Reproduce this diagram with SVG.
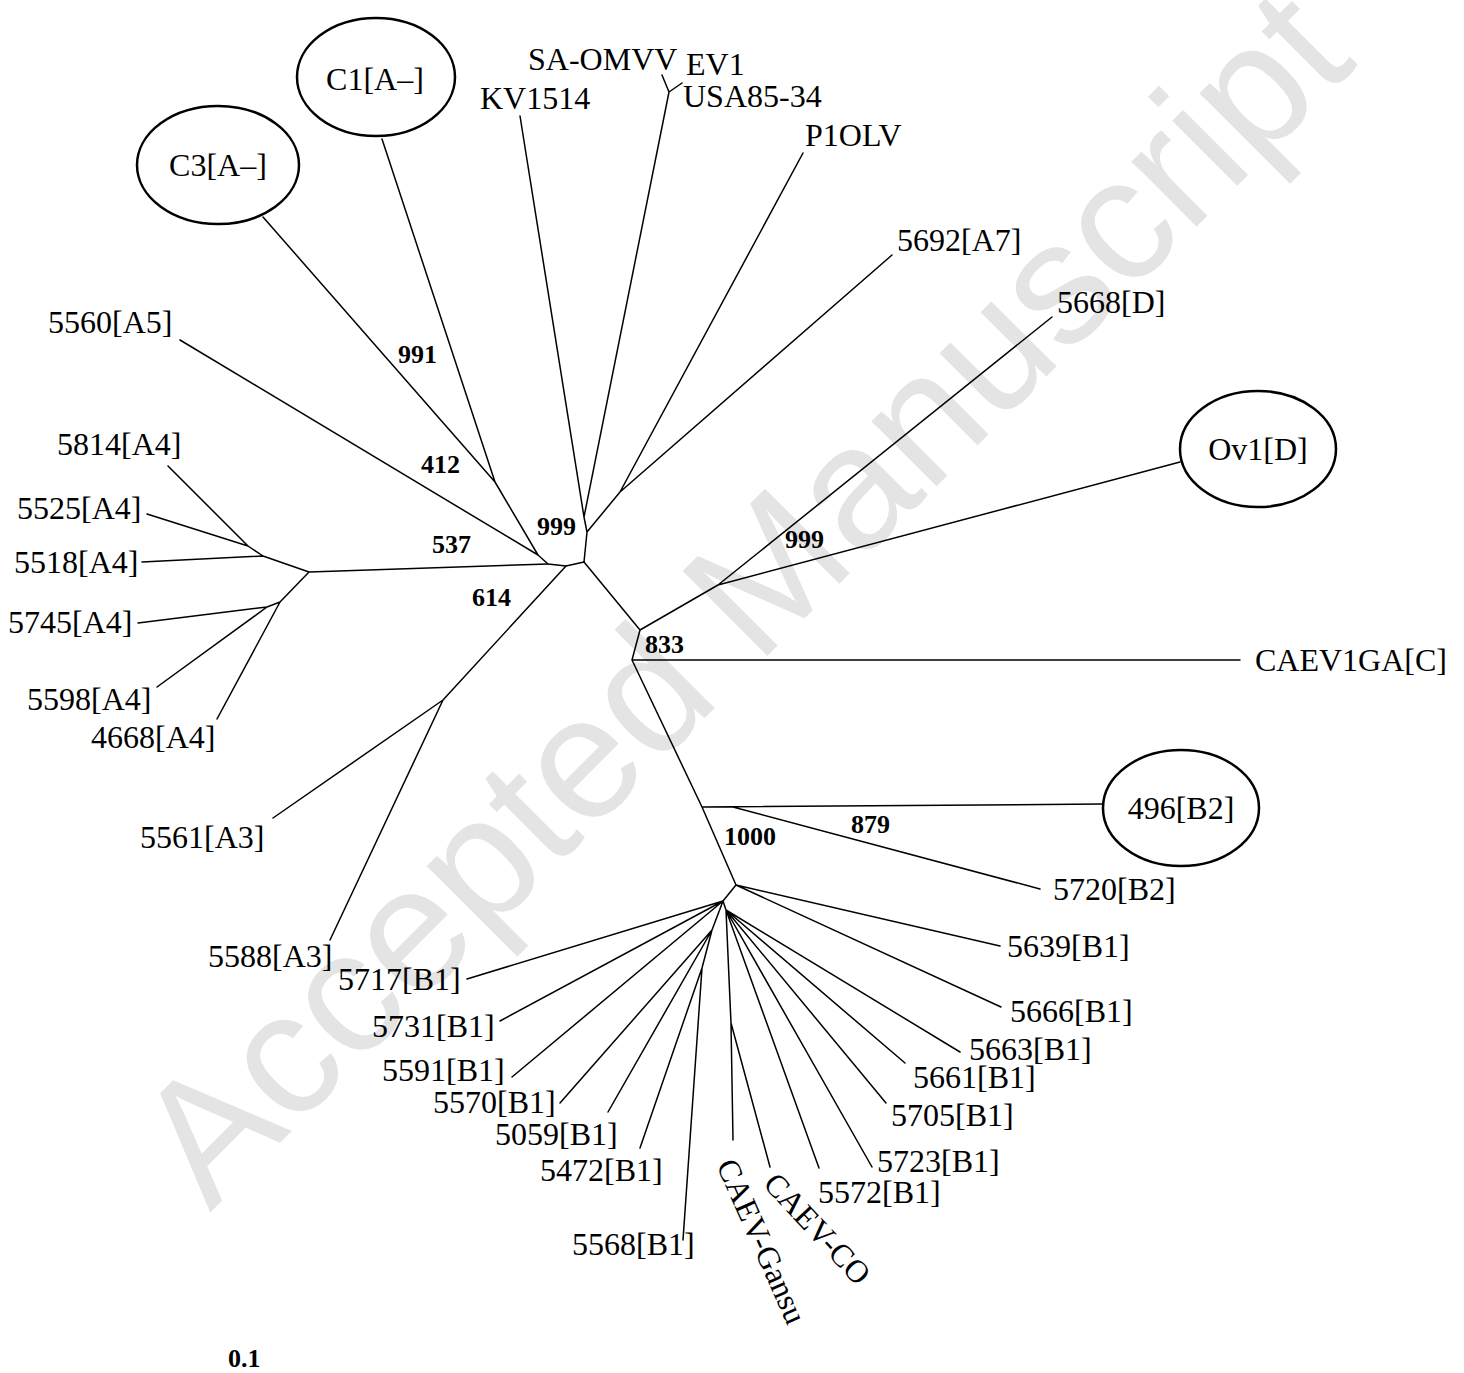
<svg xmlns="http://www.w3.org/2000/svg" width="1464" height="1373" viewBox="0 0 1464 1373">
<style>
.e{fill:none;stroke:#000;stroke-width:2.5}
.c{fill:none;stroke:#000;stroke-width:1.5;stroke-linecap:round;stroke-linejoin:round}
.t{font-family:"Liberation Serif","Times New Roman",serif;font-size:32px;fill:#000}
.m{text-anchor:middle}
.s{font-family:"Liberation Serif","Times New Roman",serif;font-size:26px;font-weight:bold;fill:#000}
.w{font-family:"Liberation Sans",Arial,sans-serif;font-size:174px;fill:#e4e4e4}
</style>
<rect width="1464" height="1373" fill="#fff"/>
<text class="w" text-anchor="middle" transform="translate(742,596) rotate(-45)" y="60">Accepted Manuscript</text>
<g id="connectors">
<path class="c" d="M584,562 L587,532 L584,517 M584,517 L520,116 M584,517 L669,92 L662,75 M669,92 L682,83 M587,532 L620,492 L803,153 M620,492 L892,255"/>
<path class="c" d="M584,562 L566,566 L548,564 L538,555 L495,482 L382,139 M495,482 L263,217 M538,555 L180,340"/>
<path class="c" d="M548,564 L309,572 L263,556 L248,546 L168,466 M248,546 L147,514 M263,556 L142,562 M309,572 L280,602 L217,719 M280,602 L267,607 L138,623 M267,607 L157,687"/>
<path class="c" d="M566,566 L443,700 L273,818 M443,700 L330,940"/>
<path class="c" d="M584,562 L640,630 L718,585 L1052,317 M718,585 L1180,462 M640,630 L632,660 L1240,660 M632,660 L702,807 L736,885 M702,807 L1103,804 M733,807 L1040,889"/>
<path class="c" d="M736,885 L1000,946 M736,885 L1001,1007 M736,885 L723,901 L467,979 M723,901 L500,1021 M723,901 L512,1077 M723,901 L712,930 L560,1103 M712,930 L608,1112 M712,930 L702,968 L640,1148 M702,968 L683,1240"/>
<path class="c" d="M723,901 L726,910 L731,1023 L733,1140 M731,1023 L770,1167 M726,910 L819,1168 M726,910 L872,1167 M726,910 L886,1103 M726,910 L905,1063 M726,910 L960,1052"/>
</g>
<g id="bootstrap">
<text class="s" x="398" y="363">991</text>
<text class="s" x="421" y="473">412</text>
<text class="s" x="537" y="535">999</text>
<text class="s" x="432" y="553">537</text>
<text class="s" x="472" y="606">614</text>
<text class="s" x="785" y="548">999</text>
<text class="s" x="645" y="653">833</text>
<text class="s" x="851" y="833">879</text>
<text class="s" x="724" y="845">1000</text>
</g>
<g id="C3"><ellipse class="e" cx="218" cy="165" rx="81" ry="59"/><text class="t m" x="218" y="176">C3[A–]</text></g>
<g id="C1"><ellipse class="e" cx="376" cy="77" rx="79" ry="59"/><text class="t m" x="375" y="90">C1[A–]</text></g>
<g id="KV1514"><text class="t" x="480" y="109">KV1514</text></g>
<g id="SA-OMVV"><text class="t" x="528" y="70">SA-OMVV</text></g>
<g id="EV1"><text class="t" x="686" y="75">EV1</text></g>
<g id="USA85-34"><text class="t" x="683" y="107">USA85-34</text></g>
<g id="P1OLV"><text class="t" x="805" y="146">P1OLV</text></g>
<g id="n5692"><text class="t" x="897" y="251">5692[A7]</text></g>
<g id="n5668"><text class="t" x="1057" y="313">5668[D]</text></g>
<g id="Ov1"><ellipse class="e" cx="1258" cy="449" rx="78" ry="58"/><text class="t m" x="1258" y="460">Ov1[D]</text></g>
<g id="CAEV1GA"><text class="t" x="1255" y="671">CAEV1GA[C]</text></g>
<g id="n496"><ellipse class="e" cx="1181" cy="808" rx="78" ry="58"/><text class="t m" x="1181" y="819">496[B2]</text></g>
<g id="n5720"><text class="t" x="1053" y="900">5720[B2]</text></g>
<g id="n5639"><text class="t" x="1007" y="957">5639[B1]</text></g>
<g id="n5666"><text class="t" x="1010" y="1022">5666[B1]</text></g>
<g id="n5663"><text class="t" x="969" y="1060">5663[B1]</text></g>
<g id="n5661"><text class="t" x="913" y="1088">5661[B1]</text></g>
<g id="n5705"><text class="t" x="891" y="1126">5705[B1]</text></g>
<g id="n5723"><text class="t" x="877" y="1172">5723[B1]</text></g>
<g id="n5572"><text class="t" x="818" y="1203">5572[B1]</text></g>
<g id="CAEV-CO"><text class="t" transform="translate(762,1185) rotate(47)">CAEV-CO</text></g>
<g id="CAEV-Gansu"><text class="t" transform="translate(716,1165) rotate(66)">CAEV-Gansu</text></g>
<g id="n5568"><text class="t" x="572" y="1255">5568[B1]</text></g>
<g id="n5472"><text class="t" x="540" y="1181">5472[B1]</text></g>
<g id="n5059"><text class="t" x="495" y="1145">5059[B1]</text></g>
<g id="n5570"><text class="t" x="433" y="1113">5570[B1]</text></g>
<g id="n5591"><text class="t" x="382" y="1081">5591[B1]</text></g>
<g id="n5731"><text class="t" x="372" y="1037">5731[B1]</text></g>
<g id="n5717"><text class="t" x="338" y="990">5717[B1]</text></g>
<g id="n5588"><text class="t" x="208" y="967">5588[A3]</text></g>
<g id="n5561"><text class="t" x="140" y="848">5561[A3]</text></g>
<g id="n4668"><text class="t" x="91" y="748">4668[A4]</text></g>
<g id="n5598"><text class="t" x="27" y="710">5598[A4]</text></g>
<g id="n5745"><text class="t" x="8" y="633">5745[A4]</text></g>
<g id="n5518"><text class="t" x="14" y="573">5518[A4]</text></g>
<g id="n5525"><text class="t" x="17" y="519">5525[A4]</text></g>
<g id="n5814"><text class="t" x="57" y="455">5814[A4]</text></g>
<g id="n5560"><text class="t" x="48" y="333">5560[A5]</text></g>
<g id="scale"><text class="s" x="228" y="1367">0.1</text></g>
</svg>
